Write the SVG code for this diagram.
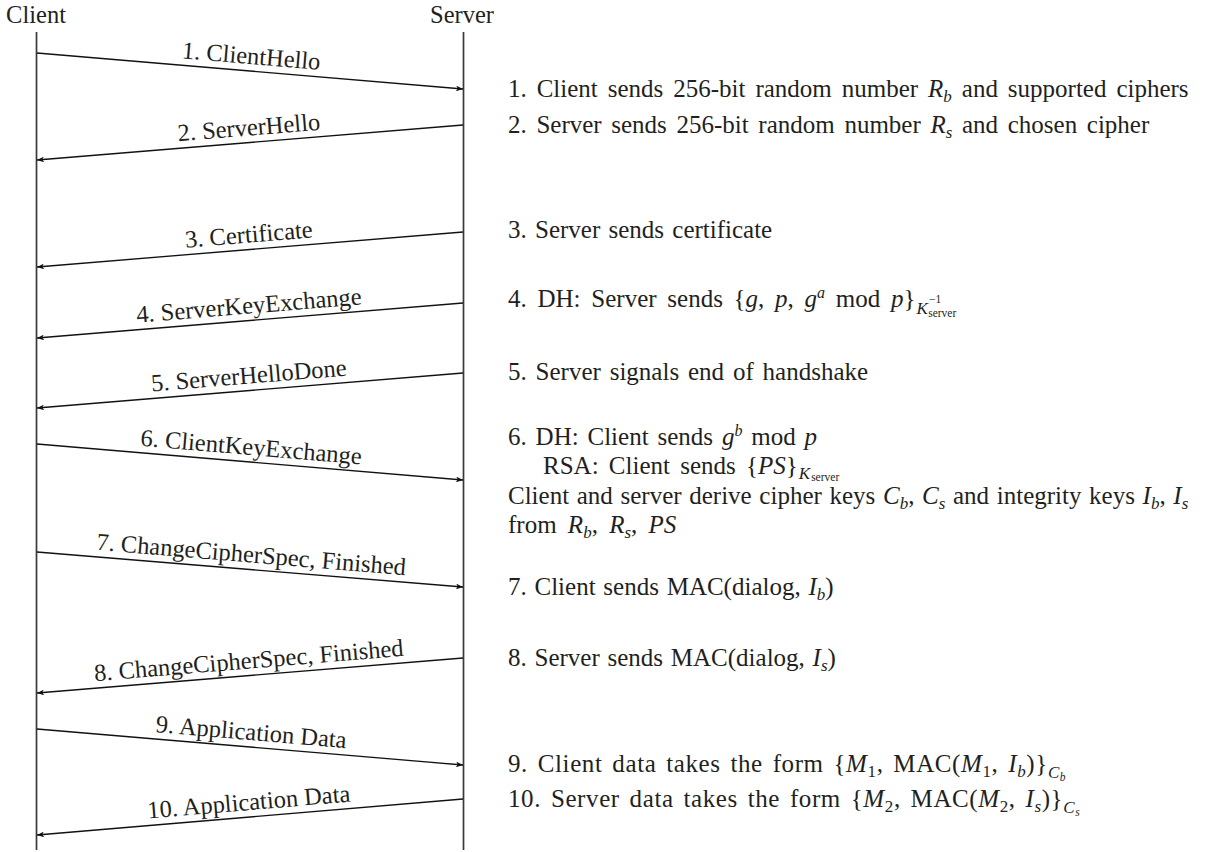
<svg xmlns="http://www.w3.org/2000/svg" width="1218" height="852" viewBox="0 0 1218 852">
<style>
  text { font-family: "Liberation Serif", "Times New Roman", serif; fill: #231f20; }
  .hd { font-size: 24.5px; text-anchor: middle; }
  .lb { font-size: 24.5px; text-anchor: middle; }
  .t { font-size: 25px; word-spacing: 2px; }
  .i { font-style: italic; }
  .sub { font-size: 17px; }
  .sup { font-size: 16px; }
  .ss { font-size: 11.5px; }
  .life { stroke: #3a3a3a; stroke-width: 1.7; fill: none; }
  .msg { stroke: #111; stroke-width: 1.3; fill: none; marker-end: url(#ah); }
</style>
<defs>
  <marker id="ah" viewBox="0 0 10 8" refX="10" refY="4" markerWidth="7" markerHeight="5.6" markerUnits="userSpaceOnUse" orient="auto">
    <path d="M0,0 L10,4 L0,8 L2.5,4 z" fill="#111"/>
  </marker>
</defs>
<rect width="1218" height="852" fill="#fff"/>

<g id="client">
  <text class="hd" x="36" y="23">Client</text>
  <line class="life" x1="36.5" y1="32" x2="36.5" y2="850"/>
</g>
<g id="server">
  <text class="hd" x="462" y="23">Server</text>
  <line class="life" x1="463.5" y1="32" x2="463.5" y2="850"/>
</g>

<g id="connectors">
  <line class="msg" x1="37" y1="53" x2="463" y2="89"/>
  <line class="msg" x1="463" y1="125" x2="37" y2="160"/>
  <line class="msg" x1="463" y1="232" x2="37" y2="267"/>
  <line class="msg" x1="463" y1="303" x2="37" y2="338"/>
  <line class="msg" x1="463" y1="373" x2="37" y2="408"/>
  <line class="msg" x1="37" y1="444" x2="463" y2="480"/>
  <line class="msg" x1="37" y1="552" x2="463" y2="587"/>
  <line class="msg" x1="463" y1="658" x2="37" y2="693"/>
  <line class="msg" x1="37" y1="729" x2="463" y2="765"/>
  <line class="msg" x1="463" y1="799" x2="37" y2="835"/>
</g>

<g id="labels">
  <text class="lb" transform="translate(250,71) rotate(4.82)" x="0" y="-7">1. ClientHello</text>
  <text class="lb" transform="translate(250,142.5) rotate(-4.69)" x="0" y="-7">2. ServerHello</text>
  <text class="lb" transform="translate(250,249.5) rotate(-4.69)" x="0" y="-7">3. Certificate</text>
  <text class="lb" transform="translate(250,320.5) rotate(-4.69)" x="0" y="-7">4. ServerKeyExchange</text>
  <text class="lb" transform="translate(250,390.5) rotate(-4.69)" x="0" y="-7">5. ServerHelloDone</text>
  <text class="lb" transform="translate(250,462) rotate(4.82)" x="0" y="-7">6. ClientKeyExchange</text>
  <text class="lb" transform="translate(250,569.5) rotate(4.69)" x="0" y="-7">7. ChangeCipherSpec, Finished</text>
  <text class="lb" transform="translate(250,675.5) rotate(-4.69)" x="0" y="-7">8. ChangeCipherSpec, Finished</text>
  <text class="lb" transform="translate(250,747) rotate(4.82)" x="0" y="-7">9. Application Data</text>
  <text class="lb" transform="translate(250,817) rotate(-4.82)" x="0" y="-7">10. Application Data</text>
</g>

<g id="notes">
  <text class="t" style="word-spacing:3.7px" x="508" y="97">1. Client sends 256-bit random number <tspan class="i">R</tspan><tspan class="i sub" dy="5">b</tspan><tspan dy="-5"> and supported ciphers</tspan></text>
  <text class="t" style="word-spacing:3.4px" x="508" y="133">2. Server sends 256-bit random number <tspan class="i">R</tspan><tspan class="i sub" dy="5">s</tspan><tspan dy="-5"> and chosen cipher</tspan></text>
  <text class="t" x="508" y="238">3. Server sends certificate</text>
  <text class="t" style="word-spacing:4.5px" x="508" y="307">4. DH: Server sends {<tspan class="i">g</tspan>, <tspan class="i">p</tspan>, <tspan class="i">g</tspan><tspan class="sup i" dy="-9">a</tspan><tspan dy="9"> mod </tspan><tspan class="i">p</tspan>}<tspan class="i sub" dx="1" dy="7">K</tspan><tspan class="ss" dx="1" dy="-11">−1</tspan><tspan class="ss" dx="-13" dy="14">server</tspan></text>
  <text class="t" style="word-spacing:2.6px" x="508" y="380">5. Server signals end of handshake</text>
  <text class="t" style="word-spacing:2.6px" x="508" y="445">6. DH: Client sends <tspan class="i">g</tspan><tspan class="sup i" dy="-9">b</tspan><tspan dy="9"> mod </tspan><tspan class="i">p</tspan></text>
  <text class="t" style="word-spacing:4px" x="543" y="474">RSA: Client sends {<tspan class="i">PS</tspan>}<tspan class="i sub" dx="1" dy="5">K</tspan><tspan class="ss" dx="1" dy="2">server</tspan></text>
  <text class="t" style="word-spacing:1.4px" x="508" y="504">Client and server derive cipher keys <tspan class="i">C</tspan><tspan class="i sub" dy="5">b</tspan><tspan dy="-5">, </tspan><tspan class="i">C</tspan><tspan class="i sub" dy="5">s</tspan><tspan dy="-5"> and integrity keys </tspan><tspan class="i">I</tspan><tspan class="i sub" dy="5">b</tspan><tspan dy="-5">, </tspan><tspan class="i">I</tspan><tspan class="i sub" dy="5">s</tspan></text>
  <text class="t" style="word-spacing:5px" x="508" y="533">from <tspan class="i">R</tspan><tspan class="i sub" dy="5">b</tspan><tspan dy="-5">, </tspan><tspan class="i">R</tspan><tspan class="i sub" dy="5">s</tspan><tspan dy="-5">, </tspan><tspan class="i">PS</tspan></text>
  <text class="t" style="word-spacing:1.5px" x="508" y="595">7. Client sends MAC(dialog, <tspan class="i">I</tspan><tspan class="i sub" dy="5">b</tspan><tspan dy="-5">)</tspan></text>
  <text class="t" style="word-spacing:1.5px" x="508" y="666">8. Server sends MAC(dialog, <tspan class="i">I</tspan><tspan class="i sub" dy="5">s</tspan><tspan dy="-5">)</tspan></text>
  <text class="t" style="word-spacing:3px; letter-spacing:0.6px" x="508" y="772">9. Client data takes the form {<tspan class="i">M</tspan><tspan class="sub" dy="5">1</tspan><tspan dy="-5">, MAC(</tspan><tspan class="i">M</tspan><tspan class="sub" dy="5">1</tspan><tspan dy="-5">, </tspan><tspan class="i">I</tspan><tspan class="i sub" dy="5">b</tspan><tspan dy="-5">)}</tspan><tspan class="i sub" dy="6">C</tspan><tspan class="i ss" dy="3">b</tspan></text>
  <text class="t" style="word-spacing:3px; letter-spacing:0.6px" x="508" y="807">10. Server data takes the form {<tspan class="i">M</tspan><tspan class="sub" dy="5">2</tspan><tspan dy="-5">, MAC(</tspan><tspan class="i">M</tspan><tspan class="sub" dy="5">2</tspan><tspan dy="-5">, </tspan><tspan class="i">I</tspan><tspan class="i sub" dy="5">s</tspan><tspan dy="-5">)}</tspan><tspan class="i sub" dy="6">C</tspan><tspan class="i ss" dy="3">s</tspan></text>
</g>
</svg>
